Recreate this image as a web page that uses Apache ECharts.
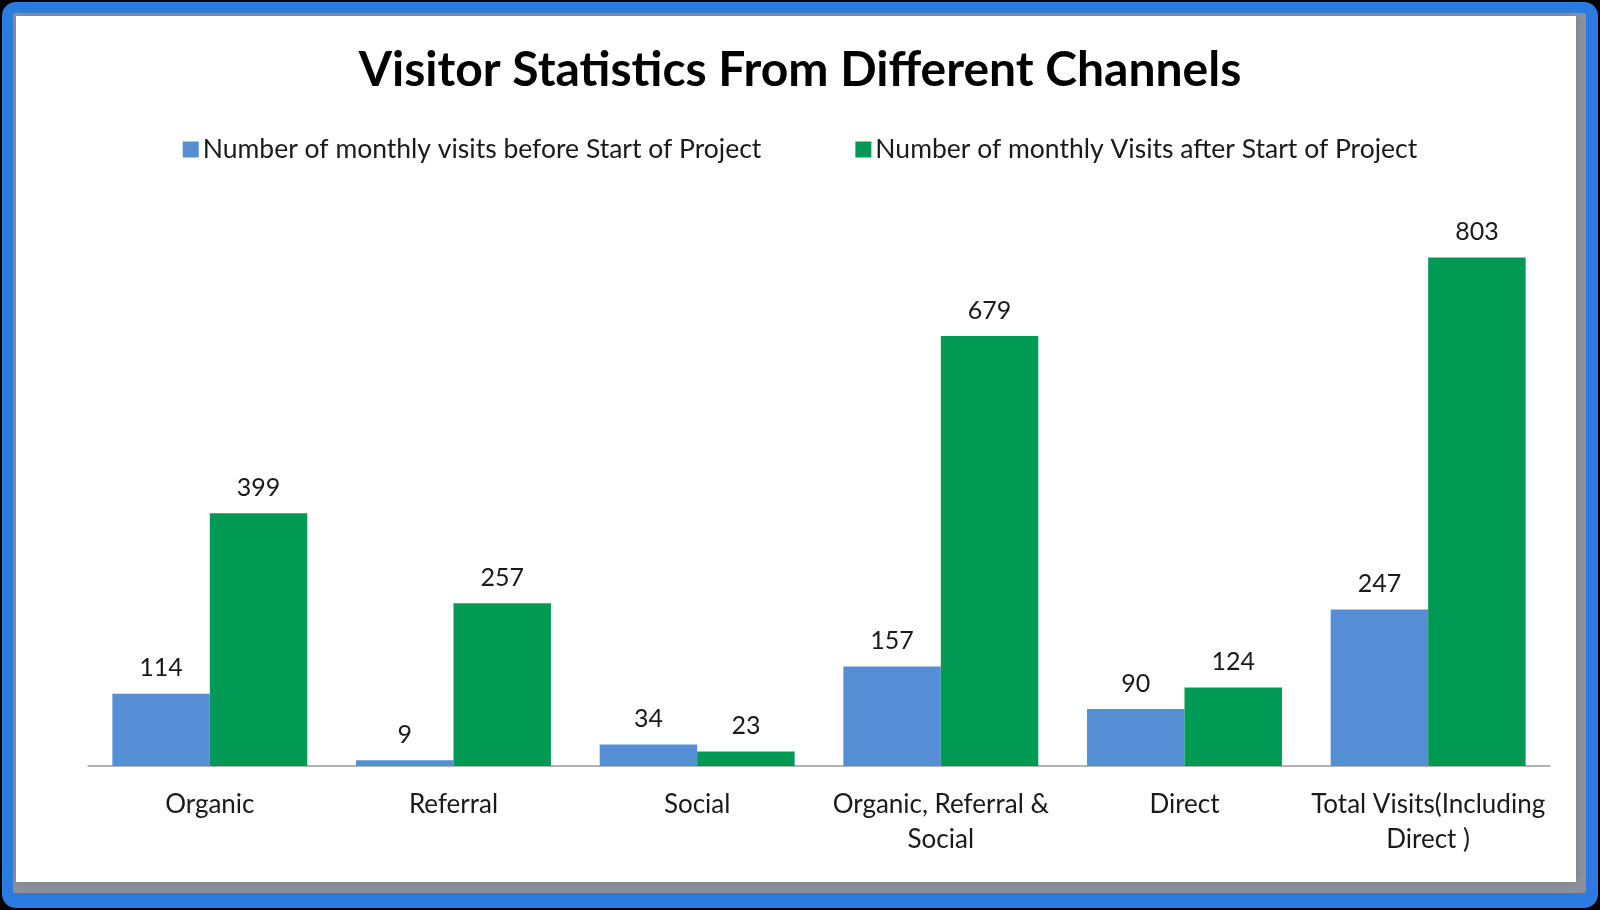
<!DOCTYPE html>
<html>
<head>
<meta charset="utf-8">
<style>
html,body{margin:0;padding:0;background:#000;}
#chart{width:1600px;height:910px;}
</style>
<script src="https://cdn.jsdelivr.net/npm/echarts@6/dist/echarts.min.js"></script>
</head>
<body>
<div id="chart"></div>
<script>
const categories = ['Organic', 'Referral', 'Social', 'Organic, Referral &\nSocial', 'Direct', 'Total Visits(Including\nDirect )'];
const seriesNames = ['Number of monthly visits before Start of Project', 'Number of monthly Visits after Start of Project'];
const beforeValues = [114, 9, 34, 157, 90, 247];
const afterValues = [399, 257, 23, 679, 124, 803];

const FONT = 'Lato';
const chart = echarts.init(document.getElementById('chart'), null, {renderer: 'canvas'});
const labelStyle = {show: true, position: 'top', distance: 13, color: '#1a1a1a', fontSize: 25, fontFamily: FONT};
chart.setOption({
  backgroundColor: '#000',
  animation: false,
  graphic: [
    {type: 'rect', z: -10, shape: {x: 2, y: 2, width: 1596, height: 906, r: 14}, style: {fill: '#2b7be0'}},
    {type: 'rect', z: -9, shape: {x: 13, y: 13, width: 1573, height: 880, r: 2}, style: {fill: '#8c929c'}},
    {type: 'rect', z: -8, shape: {x: 16, y: 16, width: 1560, height: 866}, style: {fill: '#ffffff', shadowBlur: 10, shadowColor: 'rgba(120,120,130,0.8)'}}
  ],
  title: {
    text: 'Visitor Statistics From Different Channels',
    left: 'center', top: 42,
    textStyle: {fontFamily: FONT, fontSize: 48, fontWeight: 'bold', color: '#000'}
  },
  legend: {
    top: 131, left: 'center',
    itemWidth: 16, itemHeight: 16, itemGap: 94,
    icon: 'rect',
    textStyle: {fontFamily: FONT, fontSize: 26.5, color: '#1a1a1a', padding: [0, 0, 0, -1]},
    data: seriesNames
  },
  grid: {left: 88, right: 50, top: 196, bottom: 144, containLabel: false},
  xAxis: {
    type: 'category', data: categories,
    axisLine: {lineStyle: {color: '#9a9a9a', width: 1.5}},
    axisTick: {show: false},
    axisLabel: {fontFamily: FONT, fontSize: 26, color: '#1a1a1a', margin: 21, lineHeight: 35, interval: 0}
  },
  yAxis: {
    type: 'value', min: 0, max: 900, interval: 100,
    show: false, splitLine: {show: false}
  },
  series: [
    {name: seriesNames[0], type: 'bar', data: beforeValues, barGap: '0%', barCategoryGap: '20%',
     itemStyle: {color: '#558ed5'}, label: labelStyle},
    {name: seriesNames[1], type: 'bar', data: afterValues, barGap: '0%', barCategoryGap: '20%',
     itemStyle: {color: '#009a55'}, label: labelStyle}
  ]
});
</script>
</body>
</html>
